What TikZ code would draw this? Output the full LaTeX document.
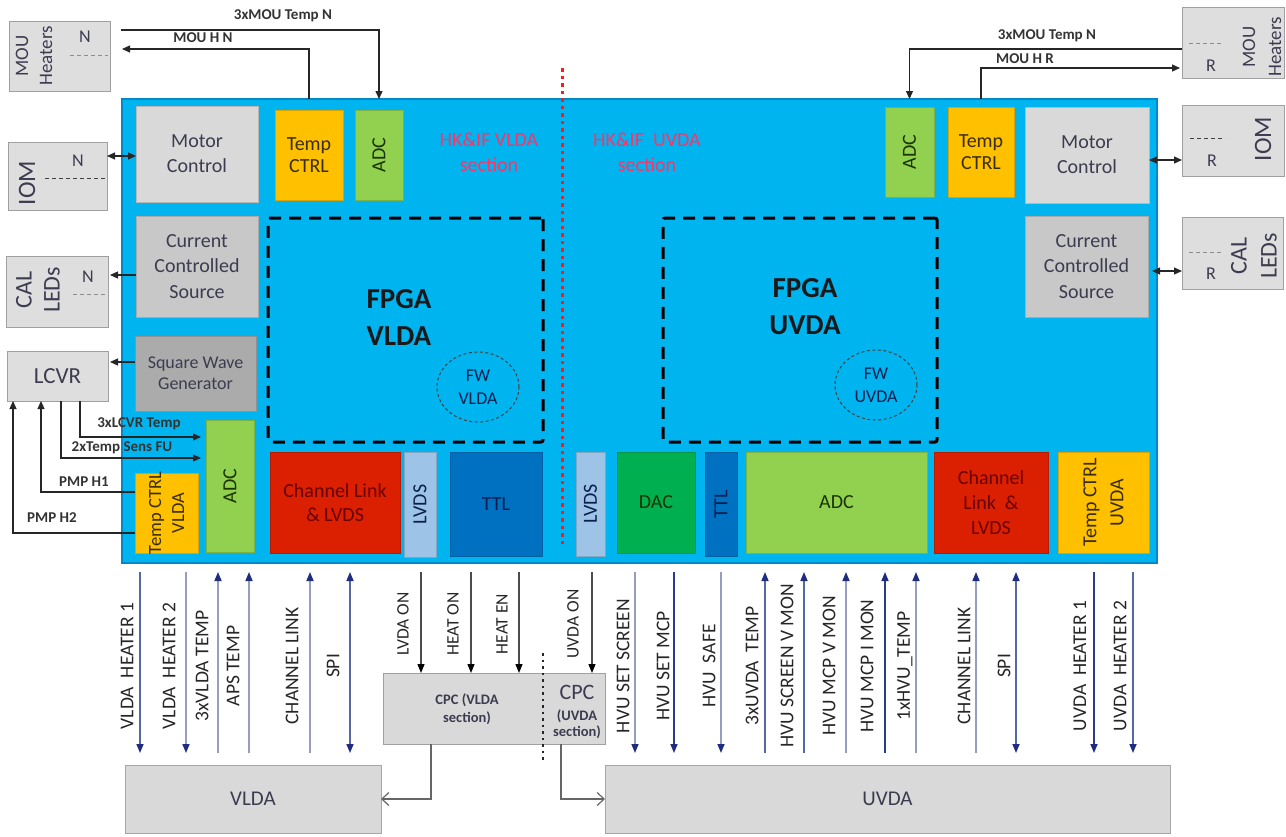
\documentclass[tikz,border=0pt]{standalone}
\usepackage{fontspec}
\setmainfont{Carlito}
\usetikzlibrary{arrows.meta,shapes.geometric}
\newcommand\myfs[2]{\fontsize{#1}{#2}\selectfont}
\definecolor{mainblue}{HTML}{00B4F0}
\definecolor{mainedge}{HTML}{0088C8}
\definecolor{extfill}{HTML}{DEDEDE}
\definecolor{extline}{HTML}{A0A0A0}
\definecolor{gray1}{HTML}{D9D9D9}
\definecolor{gray2}{HTML}{C8C8C8}
\definecolor{gray3}{HTML}{ABABAB}
\definecolor{yel}{HTML}{FFC000}
\definecolor{lgreen}{HTML}{92D050}
\definecolor{dgreen}{HTML}{00B050}
\definecolor{red1}{HTML}{DA2000}
\definecolor{lvdsblue}{HTML}{9DC3E6}
\definecolor{ttlblue}{HTML}{0070C0}
\definecolor{hkpink}{HTML}{FF3366}
\definecolor{textgray}{HTML}{3C3C50}
\definecolor{darkred}{HTML}{6A0000}
\definecolor{navytext}{HTML}{0B1F4F}
\definecolor{olive}{HTML}{3A2E00}
\definecolor{greentext}{HTML}{1A3300}
\definecolor{busdark}{HTML}{2B3A8A}
\definecolor{busmid}{HTML}{5866A6}
\definecolor{buslight}{HTML}{959DC0}
\definecolor{arrnavy}{HTML}{1F2C80}
\begin{document}
\begin{tikzpicture}[x=1pt,y=-1pt,
  base/.style={inner sep=0pt, outer sep=0pt, align=center},
  extbox/.style={base, draw=extline, fill=extfill, line width=0.8pt},
  blk/.style={base, fill=#1, draw=#1!85!black, line width=0.5pt},
  rt/.style={base, rotate=90},
  boxtxt/.style={font=\myfs{20}{25}},
  smalllbl/.style={base, font=\bfseries\myfs{15}{17}, text=black!80},
  sarrow/.style={line width=1.2pt, draw=black!85, -{Triangle[width=7pt,length=8pt]}},
  dblarrow/.style={line width=1.2pt, draw=black!85, {Triangle[width=7pt,length=8pt]}-{Triangle[width=7pt,length=8pt]}},
  bus/.style={line width=1.6pt},
  busdown/.style={-{Triangle[width=7pt,length=9pt,color=arrnavy]}},
  busup/.style={{Triangle[width=7pt,length=9pt,color=arrnavy]}-},
  busboth/.style={{Triangle[width=7pt,length=9pt,color=arrnavy]}-{Triangle[width=7pt,length=9pt,color=arrnavy]}},
  buslbl/.style={base, rotate=90, font=\myfs{19.5}{22}, text=black!85},
  ctl/.style={line width=1.3pt, draw=black!70, -{Triangle[width=7pt,length=9pt,color=black]}},
  outarr/.style={line width=1.2pt, draw=black!60, -{Straight Barb[length=7pt,width=13pt]}},
  extdash/.style={draw=black!45, line width=1pt, dash pattern=on 4pt off 3pt}
]
\useasboundingbox (0,0) rectangle (1286,836);

% main board
\node[base, fill=mainblue, draw=mainedge, line width=1.2pt, minimum width=1035pt, minimum height=464pt] (main) at (639.5,331) {};

% ---------- external boxes left
\node[extbox, minimum width=101pt, minimum height=70pt] (mouN) at (59.5,56) {};
\node[rt, font=\myfs{19}{24}, text=textgray] (mouNt) at (34,56) {MOU\\Heaters};
\node[base, font=\myfs{18}{20}, text=textgray] (mouNn) at (85,37) {N};
\draw[extdash] (70,55) -- (108,55);

\node[extbox, minimum width=99pt, minimum height=68pt] (iomN) at (57.5,176) {};
\node[rt, font=\myfs{25}{28}, text=textgray] (iomNt) at (27,183) {IOM};
\node[base, font=\myfs{18}{20}, text=textgray] (iomNn) at (78,161) {N};
\draw[extdash, draw=black!75] (45,178) -- (105,178);

\node[extbox, minimum width=102pt, minimum height=71pt] (calN) at (57,291.5) {};
\node[rt, font=\myfs{24}{28}, text=textgray] (calNt) at (38,290) {CAL\\LEDs};
\node[base, font=\myfs{18}{20}, text=textgray] (calNn) at (88,277) {N};
\draw[extdash] (73,294) -- (108,294);

\node[extbox, minimum width=101pt, minimum height=50pt, font=\myfs{23}{26}, text=textgray] (lcvr) at (57.5,376) {LCVR};

% ---------- external boxes right
\node[extbox, minimum width=102pt, minimum height=71pt] (mouR) at (1233,42.5) {};
\node[rt, font=\myfs{19}{26}, text=textgray] (mouRt) at (1262,47) {MOU\\Heaters};
\node[base, font=\myfs{18}{20}, text=textgray] (mouRr) at (1211,66) {R};
\draw[extdash] (1189,43) -- (1223,43);

\node[extbox, minimum width=102pt, minimum height=71pt] (iomR) at (1233,140.5) {};
\node[rt, font=\myfs{25}{28}, text=textgray] (iomRt) at (1263,139) {IOM};
\node[base, font=\myfs{18}{20}, text=textgray] (iomRr) at (1212,161) {R};
\draw[extdash, draw=black!75] (1190,138) -- (1225,138);

\node[extbox, minimum width=101pt, minimum height=72pt] (calR) at (1232.5,253) {};
\node[rt, font=\myfs{24}{30}, text=textgray] (calRt) at (1254,256) {CAL\\LEDs};
\node[base, font=\myfs{18}{20}, text=textgray] (calRr) at (1211,274) {R};
\draw[extdash] (1189,252) -- (1223,252);

% ---------- inner blocks, top left
\node[blk=gray1, minimum width=122pt, minimum height=96pt, boxtxt, text=textgray] (mcL) at (197,154) {Motor\\Control};
\node[blk=yel, minimum width=68pt, minimum height=90pt, font=\myfs{20}{22}, text=olive] (tcL) at (309,155) {Temp\\CTRL};
\node[blk=lgreen, minimum width=48pt, minimum height=90pt] (adcT) at (379,155) {};
\node[rt, font=\myfs{20}{22}, text=greentext] (adcTt) at (adcT) {ADC};
\node[blk=gray2, minimum width=122pt, minimum height=101pt, font=\myfs{20}{25.5}, text=textgray] (ccsL) at (197,266.5) {Current\\Controlled\\Source};
\node[blk=gray3, minimum width=121pt, minimum height=75pt, font=\myfs{18}{21}, text=textgray] (swg) at (195.5,373.5) {Square Wave\\Generator};
\node[blk=lgreen, minimum width=48pt, minimum height=132pt] (adcL) at (230,486) {};
\node[rt, font=\myfs{20}{22}, text=greentext] (adcLt) at (adcL) {ADC};
\node[blk=yel, minimum width=63pt, minimum height=80pt] (tcv) at (166.5,513) {};
\node[rt, font=\myfs{18.5}{23}, text=olive] (tcvt) at (tcv) {Temp CTRL\\VLDA};

% ---------- inner blocks, bottom row
\node[blk=red1, minimum width=130pt, minimum height=101pt, font=\myfs{20}{24}, text=darkred] (cllL) at (335,502.5) {Channel Link\\\& LVDS};
\node[blk=lvdsblue, minimum width=32pt, minimum height=105pt] (lvdsL) at (420,504.5) {};
\node[rt, font=\myfs{20}{22}, text=navytext] (lvdsLt) at (lvdsL) {LVDS};
\node[blk=ttlblue, minimum width=92pt, minimum height=104pt, font=\myfs{20}{22}, text=navytext] (ttlL) at (496,504) {TTL};
\node[blk=lvdsblue, minimum width=29pt, minimum height=104pt] (lvdsR) at (590.5,504) {};
\node[rt, font=\myfs{20}{22}, text=navytext] (lvdsRt) at (lvdsR) {LVDS};
\node[blk=dgreen, minimum width=78pt, minimum height=101pt, font=\myfs{20}{22}, text=greentext] (dac) at (656,502.5) {DAC};
\node[blk=ttlblue, minimum width=32pt, minimum height=104pt] (ttlR) at (721,504) {};
\node[rt, font=\myfs{20}{22}, text=navytext] (ttlRt) at (ttlR) {TTL};
\node[blk=lgreen, minimum width=181pt, minimum height=101pt, font=\myfs{20}{22}, text=greentext] (adcB) at (836.5,502.5) {ADC};
\node[blk=red1, minimum width=114pt, minimum height=101pt, font=\myfs{20}{25}, text=darkred] (cllR) at (991,502.5) {Channel\\Link~~\&\\LVDS};
\node[blk=yel, minimum width=91pt, minimum height=101pt] (tcu) at (1103.5,502.5) {};
\node[rt, font=\myfs{20}{27}, text=olive] (tcut) at (tcu) {Temp CTRL\\UVDA};

% ---------- inner blocks, right
\node[blk=lgreen, minimum width=49pt, minimum height=90pt] (adcTR) at (909.5,152) {};
\node[rt, font=\myfs{20}{22}, text=greentext] (adcTRt) at (adcTR) {ADC};
\node[blk=yel, minimum width=66pt, minimum height=90pt, font=\myfs{20}{22}, text=olive] (tcR) at (981,152) {Temp\\CTRL};
\node[blk=gray1, minimum width=124pt, minimum height=96pt, boxtxt, text=textgray] (mcR) at (1087,155) {Motor\\Control};
\node[blk=gray2, minimum width=123pt, minimum height=101pt, font=\myfs{20}{25.5}, text=textgray] (ccsR) at (1086.5,266.5) {Current\\Controlled\\Source};

% ---------- FPGA areas
\node[base, draw=black, line width=3pt, dash pattern=on 12pt off 8pt, rounded corners=2pt, minimum width=275pt, minimum height=224pt] (fpgaV) at (405.5,330) {};
\node[base, font=\bfseries\myfs{29}{37}, text=black!90] (fpgaVt) at (399,317) {FPGA\\VLDA};
\node[base, ellipse, draw=black!75, line width=1pt, dash pattern=on 3pt off 2.5pt, minimum width=82pt, minimum height=70pt, font=\myfs{18}{23}, text=navytext] (fwV) at (478,387) {FW\\VLDA};

\node[base, draw=black, line width=3pt, dash pattern=on 12pt off 8pt, rounded corners=2pt, minimum width=274pt, minimum height=224pt] (fpgaU) at (800,330) {};
\node[base, font=\bfseries\myfs{29}{37}, text=black!90] (fpgaUt) at (805,307) {FPGA\\UVDA};
\node[base, ellipse, draw=black!75, line width=1pt, dash pattern=on 3pt off 2.5pt, minimum width=82pt, minimum height=70pt, font=\myfs{18}{23}, text=navytext] (fwU) at (876,385) {FW\\UVDA};

% section labels and divider
\node[base, font=\myfs{20}{25}, text=hkpink] (hkV) at (489,152) {HK\&IF VLDA\\section};
\node[base, font=\myfs{20}{25}, text=hkpink] (hkU) at (647,152) {HK\&IF\ \ UVDA\\section};
\coordinate (divtop) at (562,68);
\coordinate (divbot) at (562,545);
\draw[draw=red!90!white, line width=3pt, dash pattern=on 3.5pt off 4pt] (divtop) -- (divbot);

% ---------- top connectors
\coordinate (mouNin) at (121,30);
\coordinate (mouNout) at (122,49);
\draw[sarrow] (mouNin) -| (adcT.north |- main.north);
\draw[sarrow] (tcL.north |- main.north) |- (mouNout);
\node[smalllbl] (l3mouN) at (283,16) {3xMOU Temp N};
\node[smalllbl] (lmouhN) at (203,38) {MOU H N};

\draw[sarrow] (mouR.west |- 0,49) -| (adcTR.north |- main.north);
\draw[sarrow] (tcR.north |- main.north) |- ([xshift=-2pt]mouR.west |- 0,68);
\node[smalllbl] (l3mouR) at (1047,36) {3xMOU Temp N};
\node[smalllbl] (lmouhR) at (1025,59) {MOU H R};

% ---------- side connectors
\draw[dblarrow] (iomN.east |- 0,156) -- (mcL.west |- 0,156);
\draw[sarrow] (ccsL.west |- 0,275) -- ([xshift=2pt]calN.east |- 0,275);
\draw[sarrow] (swg.west |- 0,362) -- ([xshift=2pt]lcvr.east |- 0,362);
\draw[dblarrow] (mcR.east |- 0,160) -- (iomR.west |- 0,160);
\draw[dblarrow] ([xshift=4pt]ccsR.east |- 0,271) -- (calR.west |- 0,271);

% LCVR connectors
\draw[sarrow] (lcvr.south -| 80,0) |- ([xshift=-5pt]adcL.west |- 0,437);
\draw[sarrow] (lcvr.south -| 61,0) |- ([xshift=-5pt]adcL.west |- 0,458);
\draw[sarrow] (tcv.west |- 0,492) -| (lcvr.south -| 41,0);
\draw[sarrow] (tcv.west |- 0,533) -| (lcvr.south -| 13,0);
\node[smalllbl] (llcvrt) at (139,424) {3xLCVR Temp};
\node[smalllbl] (ltsfu) at (122,448) {2xTemp Sens FU};
\node[smalllbl] (lpmp1) at (84,482) {PMP H1};
\node[smalllbl] (lpmp2) at (52,518) {PMP H2};

% ---------- bottom boxes
\node[extbox, fill=gray1, draw=black!35, minimum width=256pt, minimum height=68pt, font=\myfs{21}{24}, text=textgray] (vlda) at (253,799) {VLDA};
\node[extbox, fill=gray1, draw=black!35, minimum width=565pt, minimum height=68pt, font=\myfs{21}{24}, text=textgray] (uvda) at (887.5,799) {UVDA};
\node[extbox, fill=gray1, minimum width=222pt, minimum height=71pt] (cpc) at (494,708.5) {};
\node[base, font=\bfseries\myfs{14.5}{18}, text=textgray] (cpcV) at (467,709) {CPC (VLDA\\section)};
\node[base, font=\myfs{22}{24}, text=textgray] (cpcUa) at (577,692) {CPC};
\node[base, font=\bfseries\myfs{14.5}{16}, text=textgray] (cpcUb) at (577,724) {(UVDA\\section)};
\coordinate (cdtop) at (543,653);
\coordinate (cdbot) at (543,761);
\draw[black!85, line width=2.5pt, dash pattern=on 2.5pt off 4pt] (cdtop) -- (cdbot);
\draw[outarr] (cpc.south -| 431,0) |- (vlda.east);
\draw[outarr] (cpc.south -| 561,0) |- (uvda.west);

% ---------- bus signals
\foreach \n/\x/\lx/\dir/\txt/\c in {
  vha/140/127/busdown/VLDA\ \ HEATER 1/busmid,
  vhb/186/169/busdown/VLDA\ \ HEATER 2/buslight,
  vtmp/218/202/busup/3xVLDA TEMP/buslight,
  aps/249/233/busup/APS TEMP/buslight,
  chl/310/292/busup/CHANNEL LINK/buslight,
  spil/350/333/busboth/SPI/busmid,
  hss/635/623/busdown/HVU SET SCREEN/buslight,
  hsm/674/663/busdown/HVU SET MCP/busdark,
  hsf/721/709/busdown/HVU\ \ SAFE/buslight,
  utmp/765/752/busup/3xUVDA\ \ TEMP/busmid,
  hsv/804/787/busup/HVU SCREEN V MON/busmid,
  hmv/846/829/busup/HVU MCP V MON/buslight,
  hmi/885/867/busup/HVU MCP I MON/busdark,
  hvt/916/905/busup/1xHVU\_TEMP/buslight,
  chr/976/964/busup/CHANNEL LINK/buslight,
  spir/1016/1004/busboth/SPI/busmid,
  uha/1094/1080/busdown/UVDA\ \ HEATER 1/busdark,
  uhb/1133/1120/busdown/UVDA\ \ HEATER 2/busmid}
{
  \coordinate (\n t) at (\x,572);
  \coordinate (\n b) at (\x,753);
  \draw[bus, draw=\c, \dir] (\n t) -- (\n b);
  \node[buslbl] (\n l) at (\lx,666) {\txt};
}

% CPC control lines
\foreach \n/\x/\lx/\txt in {lvon/421/403/LVDA ON, hon/471/453/HEAT ON, hen/519/502/HEAT EN, uvon/592/573/UVDA ON}
{
  \coordinate (\n t) at (\x,572);
  \draw[ctl] (\n t) -- (\n t |- cpc.north);
  \node[base, rotate=90, font=\myfs{17.5}{20}, text=black!85] (\n l) at (\lx,624) {\txt};
}
\end{tikzpicture}
\end{document}
